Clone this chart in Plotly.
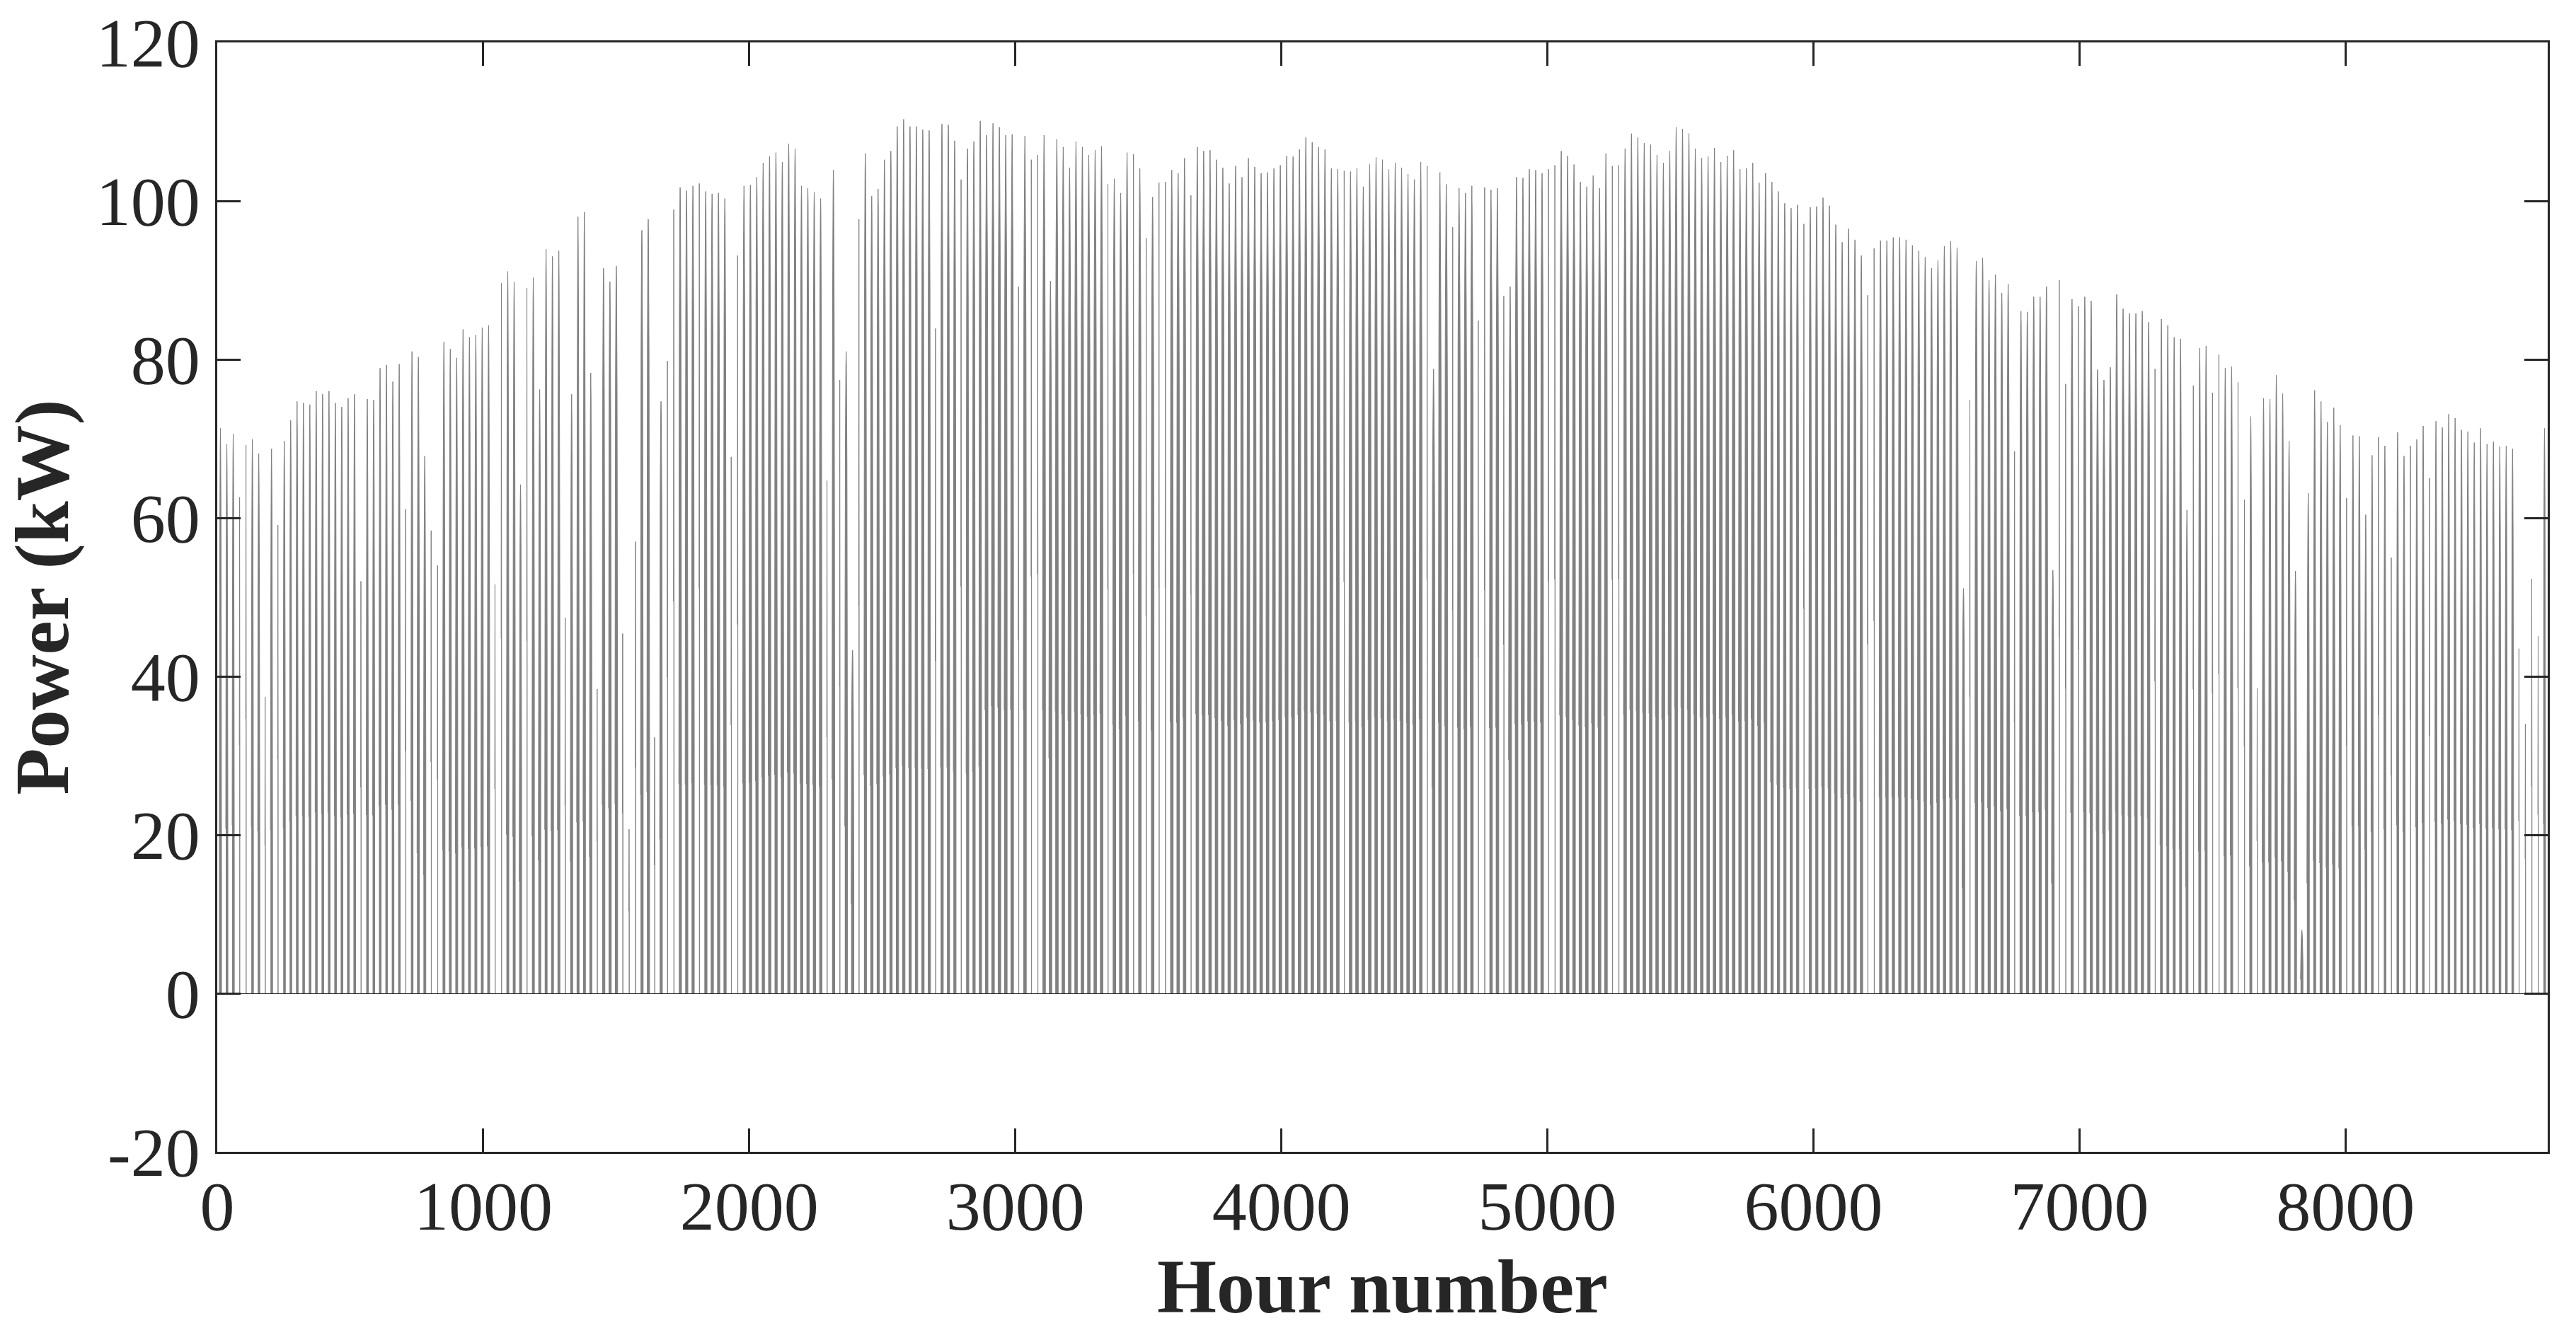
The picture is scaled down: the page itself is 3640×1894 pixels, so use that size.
import plotly.graph_objects as go

# Peak power of each day of the year (kW), day 0 to day 364.
daily_peak_kw = [
71.3,69.3,70.6,62.6,69.2,69.9,68.1,37.4,68.7,59.1,69.7,72.3,74.7,74.5,74.3,76.0,75.6,76.0,74.5,74.0,
75.1,75.6,52.0,75.0,74.9,78.9,79.3,77.2,79.4,61.1,81.0,80.3,67.8,58.4,54.0,82.2,81.3,80.2,83.8,82.8,
83.1,84.0,84.3,51.6,89.6,91.1,89.8,64.2,89.0,90.3,76.2,93.9,93.0,93.7,47.4,75.6,98.0,98.6,78.3,38.4,
91.5,89.8,91.8,45.4,20.7,57.0,96.3,97.7,32.3,74.7,79.8,98.9,101.7,101.3,101.9,102.2,101.2,100.9,101.0,100.3,
67.7,93.1,101.9,102.0,103.0,104.8,105.6,106.1,104.9,107.2,106.6,101.9,101.6,101.1,100.3,64.7,103.9,77.4,81.0,43.3,
97.7,106.0,100.6,101.5,105.2,106.3,109.4,110.3,109.4,109.4,109.0,108.9,83.9,109.7,109.6,107.6,102.7,106.6,107.5,110.1,
108.3,109.8,109.3,108.3,108.4,89.2,108.2,105.2,105.8,108.3,89.9,107.8,106.8,104.2,107.5,106.8,105.8,106.4,106.9,102.1,
102.8,101.0,106.1,105.9,104.1,95.3,100.5,102.3,102.4,103.9,103.5,105.4,100.7,106.8,106.3,106.4,105.2,104.2,102.2,104.4,
103.0,105.4,104.3,103.5,103.6,104.1,104.5,105.7,105.6,106.5,108.0,107.4,106.8,106.5,104.1,104.0,103.8,103.7,104.1,101.8,
104.6,105.5,105.2,104.0,104.8,104.2,103.4,102.7,104.9,104.4,78.8,103.6,102.1,96.7,101.6,101.0,101.9,84.9,101.7,101.4,
101.6,88.0,89.2,103.0,102.9,104.0,103.9,103.5,104.0,104.5,106.3,105.7,104.6,102.4,101.8,103.2,101.6,106.0,104.4,104.5,
106.6,108.5,108.0,107.3,107.1,105.8,104.8,106.3,109.3,109.1,108.5,106.6,105.4,105.6,106.7,104.9,105.7,106.4,104.0,104.1,
104.8,102.3,103.5,102.4,101.2,99.7,99.1,99.5,97.1,99.2,99.3,100.4,99.4,97.0,94.8,96.5,95.1,93.1,88.1,94.0,
95.0,95.0,95.4,95.4,95.1,94.4,93.7,92.9,91.5,92.5,94.3,94.9,94.1,51.1,74.9,92.4,92.8,90.0,90.7,88.4,
89.5,68.4,86.1,86.0,87.9,87.9,89.2,53.4,90.0,76.9,87.6,86.7,87.9,87.4,78.7,77.4,79.0,88.2,86.4,85.8,
85.8,86.1,84.7,78.8,85.1,84.3,82.8,82.6,61.0,76.7,81.4,81.7,75.8,80.6,78.9,79.1,77.1,62.3,72.8,38.5,
75.1,75.0,78.0,75.7,69.7,53.3,8.0,63.1,76.1,74.7,72.1,73.9,71.7,62.5,70.4,70.3,60.4,67.9,70.2,69.1,
55.0,70.8,67.8,69.1,69.9,71.6,65.0,72.2,71.4,73.1,72.6,71.1,70.9,69.5,71.3,69.3,69.6,69.0,69.1,68.7,
43.5,34.0,52.3,45.1,71.3,
]

# Days that show as a thin spike rather than a full bar.
spike_days = [
3,4,7,9,22,29,33,34,43,44,48,54,59,63,64,65,68,70,71,75,80,81,95,97,100,112,116,125,127,128,
139,143,145,147,148,152,176,189,193,197,198,201,208,209,218,219,248,258,259,274,281,288,289,291,
303,309,312,313,316,317,319,333,338,340,343,346,360,361,362,363,
]

days_in_month = [31, 28, 31, 30, 31, 30, 31, 31, 30, 31, 30, 31]

# Share of the daily peak for each hour of the day, one row per group of months.
profile_winter = [0,0,0,0,0,0,0,0,.30,.68,.86,.96,1,.95,.84,.62,.22,0,0,0,0,0,0,0]
profile_late_autumn = [0,0,0,0,0,0,0,.22,.50,.74,.88,.97,1,.96,.86,.70,.45,0,0,0,0,0,0,0]
profile_spring = [0,0,0,0,0,0,0,.26,.62,.84,.92,.98,1,.98,.90,.82,.58,.30,0,0,0,0,0,0]
profile_summer = [0,0,0,0,0,0,.33,.55,.80,.88,.93,.98,1,.97,.91,.86,.76,.50,0,0,0,0,0,0]
profile_spike = [0,0,0,0,0,0,0,0,0,0,0,.50,1,.45,0,0,0,0,0,0,0,0,0,0]
month_profiles = [
    profile_winter, profile_late_autumn, profile_spring, profile_spring,
    profile_summer, profile_summer, profile_summer, profile_summer,
    profile_spring, profile_spring, profile_late_autumn, profile_winter,
]

x_ticks = [0, 1000, 2000, 3000, 4000, 5000, 6000, 7000, 8000]
y_ticks = [-20, 0, 20, 40, 60, 80, 100, 120]
y_tick_labels = ["-20", "0", "20", "40", "60", "80", "100", "120"]

day_month = []
for m, n in enumerate(days_in_month):
    day_month += [m] * n

# Each day's sunlit hours form one closed block, with the sides dropping straight to zero.
hours = []
power = []
for d, peak in enumerate(daily_peak_kw):
    prof = profile_spike if d in spike_days else month_profiles[day_month[d]]
    lit = [h for h, share in enumerate(prof) if share > 0]
    hours.append(d * 24 + lit[0])
    power.append(0)
    for h in lit:
        hours.append(d * 24 + h)
        power.append(round(peak * prof[h], 2))
    hours.append(d * 24 + lit[-1])
    power.append(0)

# The outline has a break at every night, so the zero line shows between the days.
outline_hours = []
outline_power = []
for hour, kw in zip(hours, power):
    outline_hours.append(hour)
    outline_power.append(kw)
    if kw == 0 and len(outline_power) > 1 and outline_power[-2] != 0:
        outline_hours.append(None)
        outline_power.append(None)

INK = "#262626"
FONT = "Liberation Serif"

fig = go.Figure()
fig.add_trace(go.Scatter(
    x=hours, y=power, mode="lines",
    line=dict(color="#808080", width=0, simplify=False),
    fill="tozeroy", fillcolor="#808080",
    hoverinfo="skip", showlegend=False,
))
fig.add_trace(go.Scatter(
    x=outline_hours, y=outline_power, mode="lines",
    line=dict(color="#808080", width=1, simplify=False),
    connectgaps=False, hoverinfo="skip", showlegend=False,
))

axis_common = dict(
    showgrid=False, showline=True, linecolor=INK, linewidth=2.5,
    mirror="ticks", ticks="inside", ticklen=33, tickwidth=2.5, tickcolor=INK,
    tickfont=dict(family=FONT, size=98, color=INK),
)

fig.update_layout(
    width=3640, height=1894,
    margin=dict(l=307, r=40, t=60, b=266, autoexpand=False),
    paper_bgcolor="white", plot_bgcolor="white",
    xaxis=dict(
        range=[0, 8760], tickmode="array", tickvals=x_ticks, zeroline=False,
        ticklabelstandoff=-10,
        title=dict(text="Hour number", font=dict(family=FONT, size=108, color=INK, weight="bold"), standoff=8),
        **axis_common,
    ),
    yaxis=dict(
        range=[-20, 120], tickmode="array", tickvals=y_ticks, ticktext=y_tick_labels,
        zeroline=True, zerolinecolor=INK, zerolinewidth=1,
        ticklabelstandoff=2,
        title=dict(text="Power (kW)", font=dict(family=FONT, size=108, color=INK, weight="bold"), standoff=15),
        **axis_common,
    ),
)

fig.write_html("out.html", config=dict(displayModeBar=False), post_script="document.body.style.margin='0';")
